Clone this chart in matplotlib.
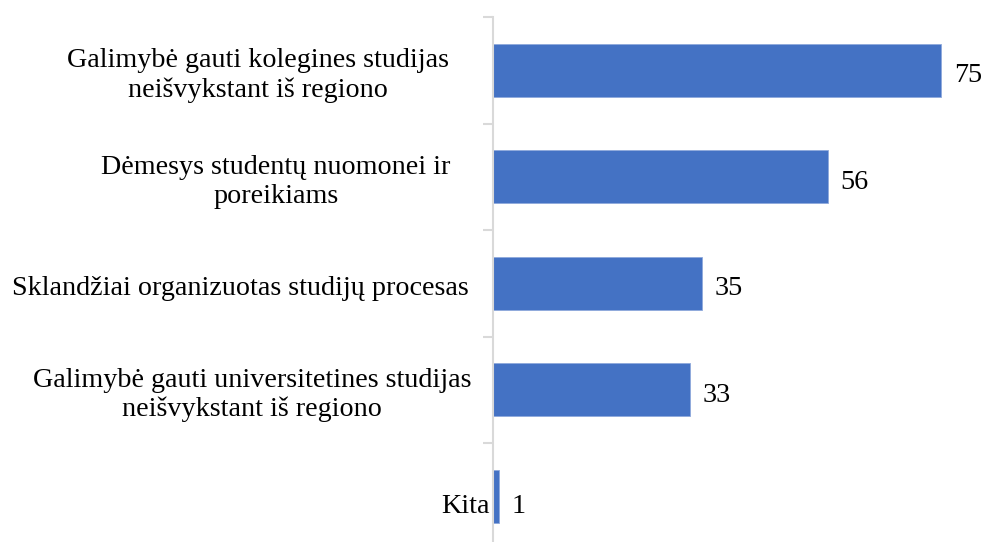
import matplotlib
matplotlib.use("Agg")
import matplotlib.pyplot as plt
from matplotlib.transforms import blended_transform_factory

categories = [
    "Galimybė gauti kolegines studijas\nneišvykstant iš regiono",
    "Dėmesys studentų nuomonei ir\nporeikiams",
    "Sklandžiai organizuotas studijų procesas",
    "Galimybė gauti universitetines studijas\nneišvykstant iš regiono",
    "Kita",
]
values = [75, 56, 35, 33, 1]

# label layout (pixel x of label centre / right edge) - style only
label_x = [258, 276, 240, 252, 490]
label_ha = ["center", "center", "center", "center", "right"]
label_dy = [0, 0, 0, 0, 0.05]

plt.rcParams["font.family"] = ["Liberation Serif", "DejaVu Serif"]

W, H = 982, 542
fig = plt.figure(figsize=(W / 100, H / 100), dpi=100)
left = 493 / W
top_px = 17
spacing = 106.5
ax_h = spacing * len(categories)
bottom_px = top_px + ax_h
ax = fig.add_axes([left, 1 - bottom_px / H, (W - 11) / W - left, ax_h / H])

bar_color = "#4472C4"
ypos = list(range(len(categories)))
ax.barh(ypos, values, height=0.5, color=bar_color, edgecolor="#8fa9dc", linewidth=0.6)

ax.set_xlim(0, 80)
ax.set_ylim(len(categories) - 0.5, -0.5)

for s in ["top", "right", "bottom"]:
    ax.spines[s].set_visible(False)
ax.spines["left"].set_color("#d9d9d9")
ax.spines["left"].set_linewidth(1.5)
ax.set_xticks([])
ax.set_yticks([i - 0.5 for i in range(len(categories))])
ax.set_yticklabels([])
ax.tick_params(axis="y", length=7, width=1.5, color="#d9d9d9")

fs = 20.25
for i, v in enumerate(values):
    dy = 0.05 + label_dy[i]
    ax.annotate(str(v), xy=(v, i + dy), xytext=(9, 0), textcoords="offset points",
                ha="left", va="center", fontsize=fs, color="black")

tr = blended_transform_factory(fig.transFigure, ax.transData)
for i, c in enumerate(categories):
    ax.text(label_x[i] / W, i + 0.05 + label_dy[i], c, transform=tr, ha=label_ha[i],
            va="center", multialignment="center", fontsize=fs, color="black",
            linespacing=1.2)

fig.savefig("out.png", dpi=100)
